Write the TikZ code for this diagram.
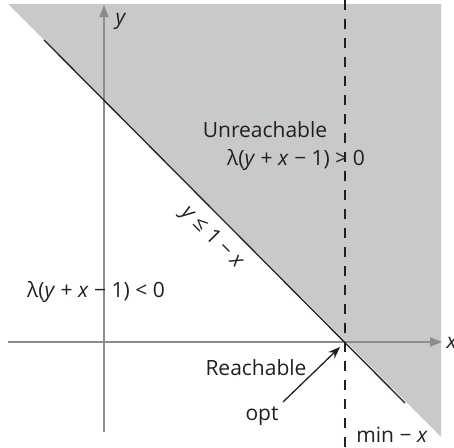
\documentclass[tikz,border=0pt]{standalone}
\usepackage{fontspec}
\setmainfont{Open Sans}
\usetikzlibrary{arrows.meta}
\definecolor{regiongray}{RGB}{200,201,203}
\definecolor{axisgray}{RGB}{140,140,140}
\definecolor{inkblack}{RGB}{35,31,32}
\tikzset{
  axis/.style={draw=axisgray, line width=1.5pt, -{Triangle[length=12pt,width=9pt]}},
  lbl/.style={font=\fontsize{21}{25}\selectfont, text=inkblack, inner sep=0pt, anchor=base},
  boundary/.style={draw=inkblack, line width=1.3pt},
  limit/.style={draw=inkblack, line width=1.3pt, dash pattern=on 10pt off 9pt},
  pointer/.style={draw=inkblack, line width=1.3pt, -{Stealth[length=12pt,width=9pt]}}
}
\begin{document}
\begin{tikzpicture}[x=1pt,y=-1pt]
\useasboundingbox (0,0) rectangle (454,447);
% shaded region
\fill[regiongray] (8,4) -- (441,4) -- (441,437) -- cycle;
% axes
\coordinate (xs) at (8,342);
\coordinate (xe) at (442,342);
\coordinate (ys) at (104,432);
\coordinate (ye) at (104,5);
\draw[axis] (xs) -- (xe);
\draw[axis] (ys) -- (ye);
% boundary line
\coordinate (b1) at (44,40);
\coordinate (b2) at (405,403);
\draw[boundary] (b1) -- (b2);
% dashed limit
\coordinate (d1) at (345,0);
\coordinate (d2) at (345,447);
\draw[limit] (d1) -- (d2);
% labels
\node[lbl] (ylab) at (121,24) {\textit{y}};
\node[lbl] (xlab) at (452,348) {\textit{x}};
\node[lbl] (unr) at (265,137) {Unreachable};
\node[lbl] (gt) at (296,165) {λ(\textit{y} + \textit{x} − 1) > 0};
\node[lbl] (lt) at (96,297) {λ(\textit{y} + \textit{x} − 1) < 0};
\node[lbl] (reach) at (256,375) {Reachable};
\node[lbl] (opt) at (262,420) {opt};
\node[lbl] (minx) at (392,442) {min − \textit{x}};
\node[font=\fontsize{21}{25}\selectfont, text=inkblack, inner sep=0pt, rotate=-45] (cons) at (212,238) {\textit{y} ≤ 1 − \textit{x}};
% pointer
\coordinate (ps) at (283,402);
\coordinate (pt) at (340,347);
\draw[pointer] (ps) -- (pt);
\end{tikzpicture}
\end{document}
